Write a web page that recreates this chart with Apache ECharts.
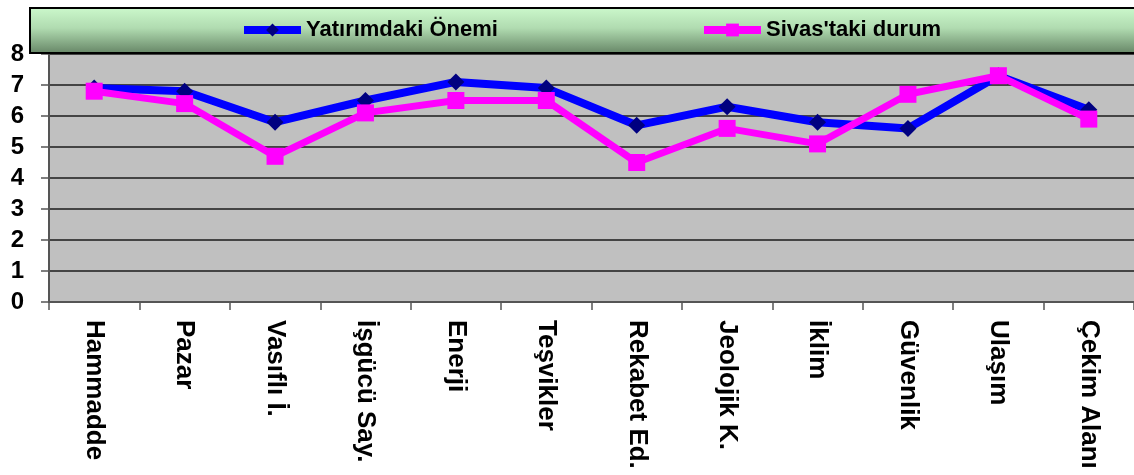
<!DOCTYPE html>
<html>
<head>
<meta charset="utf-8">
<script src="https://cdn.jsdelivr.net/npm/echarts@6/dist/echarts.min.js"></script>
<style>
  html, body { margin: 0; padding: 0; background: #fff; }
  #main { width: 1134px; height: 475px; }
</style>
</head>
<body>
<div id="main"></div>
<script>
var categories = ["Hammadde", "Pazar", "Vasıflı İ.", "İşgücü Say.", "Enerji", "Teşvikler",
  "Rekabet Ed.", "Jeolojik K.", "İklim", "Güvenlik", "Ulaşım", "Çekim Alanı"];
var yatirimdakiOnemi = [6.9, 6.8, 5.8, 6.5, 7.1, 6.9, 5.7, 6.3, 5.8, 5.6, 7.3, 6.2];
var sivastakiDurum = [6.8, 6.4, 4.7, 6.1, 6.5, 6.5, 4.5, 5.6, 5.1, 6.7, 7.3, 5.9];
var seriesNames = ["Yatırımdaki Önemi", "Sivas'taki durum"];

var font = "'Liberation Sans', Arial, sans-serif";
var chart = echarts.init(document.getElementById("main"));

var legendText = { color: "#000", fontSize: 22, fontWeight: "bold", fontFamily: font };

chart.setOption({
  animation: false,
  grid: {
    left: 49,
    right: -5,
    top: 54,
    bottom: 173,
    show: true,
    backgroundColor: "#c0c0c0",
    borderWidth: 0
  },
  // legend box with green gradient
  graphic: [
    {
      type: "rect",
      z: 5,
      shape: { x: 30, y: 8, width: 1120, height: 45 },
      style: {
        fill: new echarts.graphic.LinearGradient(0, 0, 0, 1, [
          { offset: 0, color: "#ccf9cc" },
          { offset: 0.45, color: "#b0dbb0" },
          { offset: 1, color: "#658465" }
        ]),
        stroke: "#000",
        lineWidth: 2
      }
    }
  ],
  legend: [
    {
      z: 10,
      left: 240,
      top: 19,
      padding: 0,
      itemWidth: 57,
      itemHeight: 16,
      lineStyle: { width: 8 },
      data: [seriesNames[0]],
      textStyle: legendText
    },
    {
      z: 10,
      left: 700,
      top: 19,
      padding: 0,
      itemWidth: 57,
      itemHeight: 16,
      lineStyle: { width: 8 },
      data: [seriesNames[1]],
      textStyle: legendText
    }
  ],
  xAxis: {
    type: "category",
    data: categories,
    boundaryGap: true,
    axisLine: { show: true, lineStyle: { color: "#555", width: 2 } },
    axisTick: { show: true, length: 8, lineStyle: { color: "#555", width: 1.5 } },
    axisLabel: {
      rotate: -90,
      margin: 18,
      interval: 0,
      color: "#000",
      fontSize: 26,
      fontWeight: "bold",
      fontFamily: font
    },
    splitLine: { show: false }
  },
  yAxis: {
    type: "value",
    min: 0,
    max: 8,
    interval: 1,
    axisLine: { show: true, lineStyle: { color: "#555", width: 2 } },
    axisTick: { show: true, length: 8, lineStyle: { color: "#555", width: 1.5 } },
    axisLabel: {
      margin: 25,
      color: "#000",
      fontSize: 24,
      fontWeight: "bold",
      fontFamily: font
    },
    splitLine: { show: true, lineStyle: { color: "#444", width: 2 } }
  },
  series: [
    {
      name: seriesNames[0],
      type: "line",
      data: yatirimdakiOnemi,
      symbol: "diamond",
      symbolSize: [17, 17],
      lineStyle: { color: "#0000ff", width: 8 },
      itemStyle: { color: "#000080" }
    },
    {
      name: seriesNames[1],
      type: "line",
      data: sivastakiDurum,
      symbol: "rect",
      symbolSize: [17, 17],
      lineStyle: { color: "#ff00ff", width: 7 },
      itemStyle: { color: "#ff00ff" }
    }
  ]
});
</script>
</body>
</html>
